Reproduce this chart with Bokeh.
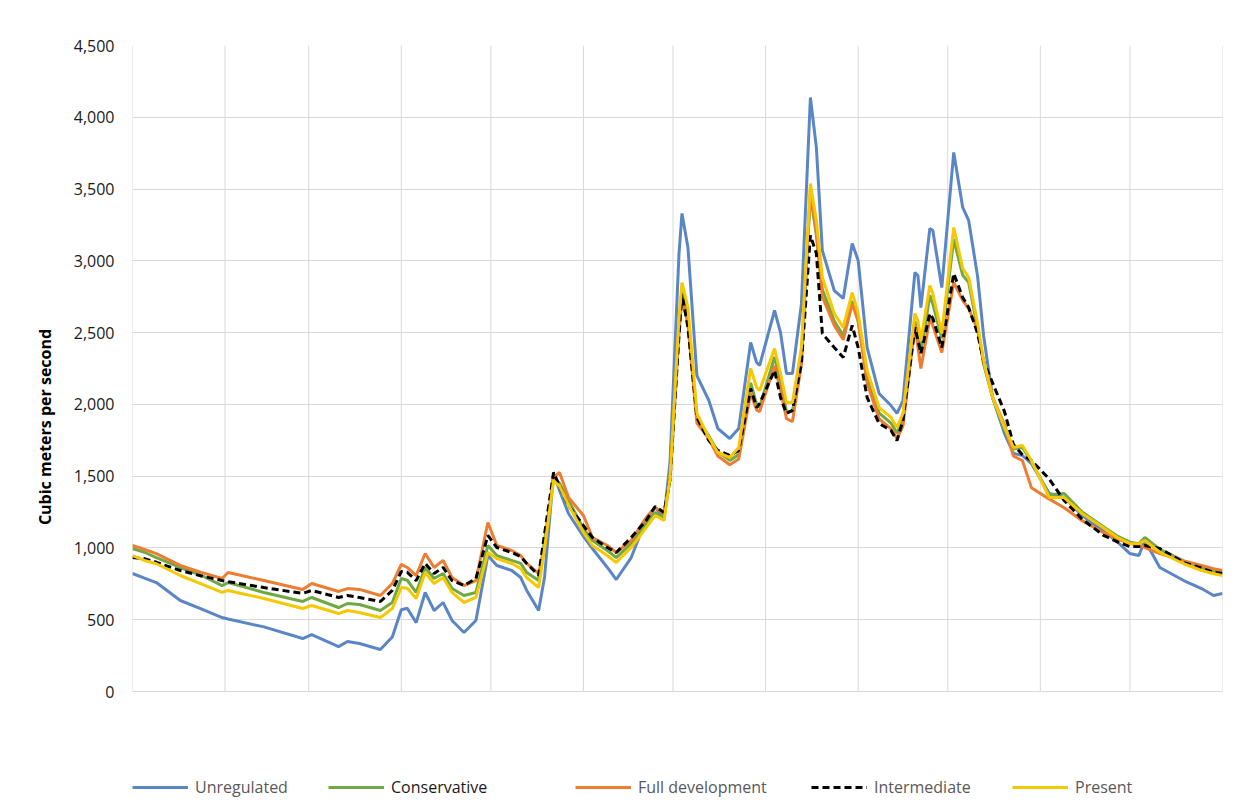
from bokeh.plotting import figure
from bokeh.models import Range1d, FixedTicker, NumeralTickFormatter, Legend, LegendItem
from bokeh.embed import file_html
from bokeh.resources import INLINE

# Day of year (0 = 1 January)
days = [0, 4, 8, 16, 23, 30, 32, 44, 57, 60, 69, 72, 76, 83, 87, 90, 92, 95, 98, 101,
        104, 107, 111, 115, 119, 122, 127, 130, 132, 136, 138, 141, 143, 146, 151, 154, 159, 162, 167, 172,
        175, 178, 180, 183, 184, 186, 189, 193, 196, 200, 203, 207, 209, 210, 215, 217, 219, 221, 224, 227,
        229, 231, 235, 238, 241, 243, 246, 250, 254, 256, 258, 262, 263, 264, 267, 268, 271, 275, 278, 280,
        283, 285, 288, 292, 295, 298, 301, 307, 312, 318, 325, 330, 334, 337, 339, 344, 352, 358, 362, 365]

unregulated = [822, 790, 759, 634, 575, 515, 505, 450, 369, 397, 313, 348, 334, 293, 380, 570, 580, 480, 690, 564,
               620, 495, 411, 495, 947, 878, 843, 794, 704, 564, 800, 1519, 1400, 1240, 1080, 996, 864, 780, 933, 1200,
               1282, 1212, 1600, 3050, 3330, 3093, 2200, 2027, 1832, 1762, 1832, 2431, 2292, 2271, 2654, 2500, 2215, 2215, 2700, 4138,
               3790, 3072, 2793, 2738, 3121, 3002, 2396, 2076, 1992, 1937, 2027, 2919, 2898, 2675, 3225, 3211, 2814, 3755, 3372, 3281,
               2890, 2480, 2048, 1797, 1658, 1644, 1588, 1379, 1351, 1226, 1122, 1038, 961, 947, 1052, 864, 773, 717, 669, 683]

conservative = [996, 970, 933, 864, 810, 738, 759, 690, 627, 655, 585, 613, 606, 564, 620, 787, 775, 690, 864, 787,
                822, 717, 669, 690, 1017, 947, 913, 892, 829, 773, 1050, 1491, 1450, 1330, 1135, 1052, 982, 933, 1031, 1170,
                1247, 1212, 1480, 2550, 2800, 2620, 1900, 1780, 1670, 1610, 1650, 2150, 2000, 1980, 2330, 2150, 1950, 1950, 2330, 3460,
                3180, 2800, 2580, 2480, 2720, 2580, 2200, 1940, 1870, 1800, 1900, 2580, 2500, 2360, 2760, 2700, 2460, 3150, 2900, 2850,
                2530, 2280, 2050, 1830, 1690, 1700, 1600, 1370, 1379, 1250, 1150, 1080, 1040, 1030, 1073, 990, 910, 860, 840, 829]

full_development = [1017, 990, 961, 878, 830, 787, 829, 773, 711, 752, 697, 717, 711, 669, 752, 885, 864, 808, 961, 864,
                    913, 794, 738, 773, 1177, 1017, 982, 947, 892, 822, 1000, 1491, 1526, 1351, 1226, 1073, 1017, 968, 1052, 1212,
                    1282, 1240, 1480, 2500, 2740, 2560, 1870, 1760, 1640, 1580, 1620, 2080, 1960, 1950, 2270, 2100, 1900, 1880, 2280, 3500,
                    3200, 2750, 2550, 2450, 2700, 2580, 2150, 1900, 1830, 1760, 1850, 2550, 2400, 2250, 2600, 2550, 2361, 2850, 2724, 2668,
                    2520, 2300, 2050, 1860, 1640, 1609, 1420, 1340, 1280, 1190, 1108, 1060, 1031, 1020, 1003, 960, 910, 878, 855, 843]

intermediate = [933, 926, 900, 843, 805, 773, 765, 724, 683, 704, 655, 669, 655, 627, 704, 836, 830, 773, 892, 822,
                864, 773, 738, 787, 1087, 1003, 968, 940, 892, 808, 1100, 1526, 1430, 1296, 1156, 1073, 1003, 968, 1073, 1191,
                1289, 1247, 1480, 2480, 2772, 2536, 1909, 1748, 1679, 1644, 1679, 2111, 1978, 2006, 2236, 2048, 1937, 1958, 2285, 3177,
                3051, 2494, 2396, 2327, 2550, 2396, 2048, 1867, 1818, 1748, 1888, 2536, 2450, 2354, 2633, 2600, 2396, 2912, 2745, 2675,
                2494, 2300, 2150, 1950, 1720, 1650, 1609, 1480, 1330, 1200, 1090, 1040, 1010, 1010, 1017, 996, 899, 860, 830, 822]

present = [947, 913, 890, 808, 750, 690, 704, 648, 578, 599, 543, 564, 550, 515, 578, 724, 720, 648, 829, 752,
           794, 690, 620, 655, 968, 926, 892, 857, 794, 724, 1000, 1470, 1430, 1300, 1108, 1017, 947, 899, 1003, 1142,
           1226, 1191, 1490, 2600, 2849, 2675, 1937, 1769, 1665, 1630, 1700, 2250, 2118, 2097, 2389, 2215, 2013, 2013, 2396, 3539,
           3281, 2884, 2633, 2536, 2779, 2633, 2236, 1978, 1909, 1839, 1937, 2633, 2584, 2445, 2828, 2772, 2494, 3232, 2947, 2884,
           2563, 2306, 2050, 1840, 1700, 1714, 1609, 1351, 1351, 1240, 1142, 1070, 1031, 1030, 1052, 970, 890, 843, 820, 808]

month_starts = [0, 31, 59, 90, 120, 151, 181, 212, 243, 273, 304, 334, 365]
y_ticks = [0, 500, 1000, 1500, 2000, 2500, 3000, 3500, 4000, 4500]

series_names = ["Unregulated", "Conservative", "Full development", "Intermediate", "Present"]

FONT = "Open Sans"
GRID = "#d9d9d9"

# frame extends below zero so that the legend row sits inside it
Y_TOP = 4500
Y_BOTTOM = -815

p = figure(width=1240, height=808, output_backend="svg", toolbar_location=None,
           x_range=Range1d(0, 365), y_range=Range1d(Y_BOTTOM, Y_TOP),
           min_border_left=132, min_border_right=18, min_border_top=45, min_border_bottom=0)
p.outline_line_color = None
p.background_fill_color = "white"
p.border_fill_color = "white"

p.xaxis.visible = False
p.xgrid.grid_line_color = None
# vertical month grid lines spanning only the value range
p.segment(x0=month_starts, y0=[y_ticks[0]] * len(month_starts),
          x1=month_starts, y1=[y_ticks[-1]] * len(month_starts),
          line_color=GRID, line_width=1)

p.yaxis.ticker = FixedTicker(ticks=y_ticks)
p.yaxis.formatter = NumeralTickFormatter(format="0,0")
p.yaxis.axis_line_color = None
p.yaxis.major_tick_line_color = None
p.yaxis.minor_tick_line_color = None
p.yaxis.major_label_standoff = 12
p.yaxis.major_label_text_font = FONT
p.yaxis.major_label_text_font_size = "16px"
p.yaxis.major_label_text_color = "#1a1a1a"
p.yaxis.axis_label = "Cubic meters per second"
p.yaxis.axis_label_text_font = FONT
p.yaxis.axis_label_text_font_style = "bold"
p.yaxis.axis_label_text_font_size = "16px"
p.yaxis.axis_label_text_color = "#000000"
p.yaxis.axis_label_standoff = 15
p.ygrid.grid_line_color = GRID
p.ygrid.grid_line_width = 1

r_unreg = p.line(days, unregulated, line_color="#5A86C5", line_width=3)
r_cons = p.line(days, conservative, line_color="#70A845", line_width=3)
r_full = p.line(days, full_development, line_color="#ED7D31", line_width=3)
r_inter = p.line(days, intermediate, line_color="#000000", line_width=3, line_dash="7 4")
r_pres = p.line(days, present, line_color="#F5C800", line_width=3)

renderers = [r_unreg, r_cons, r_full, r_inter, r_pres]
legend_x = [0, 196, 443, 679, 880]
legend_colors = ["#595959", "#1a1a1a", "#595959", "#595959", "#595959"]

for name, r, lx, lc in zip(series_names, renderers, legend_x, legend_colors):
    leg = Legend(items=[LegendItem(label=name, renderers=[r])], location=(lx, 10),
                 orientation="horizontal", margin=0, padding=0, spacing=0,
                 glyph_width=56, glyph_height=20, label_standoff=7,
                 label_text_font=FONT, label_text_font_size="16px", label_text_color=lc,
                 border_line_color=None, background_fill_alpha=0)
    p.add_layout(leg)

open("out.html", "w").write(file_html(p, INLINE))
